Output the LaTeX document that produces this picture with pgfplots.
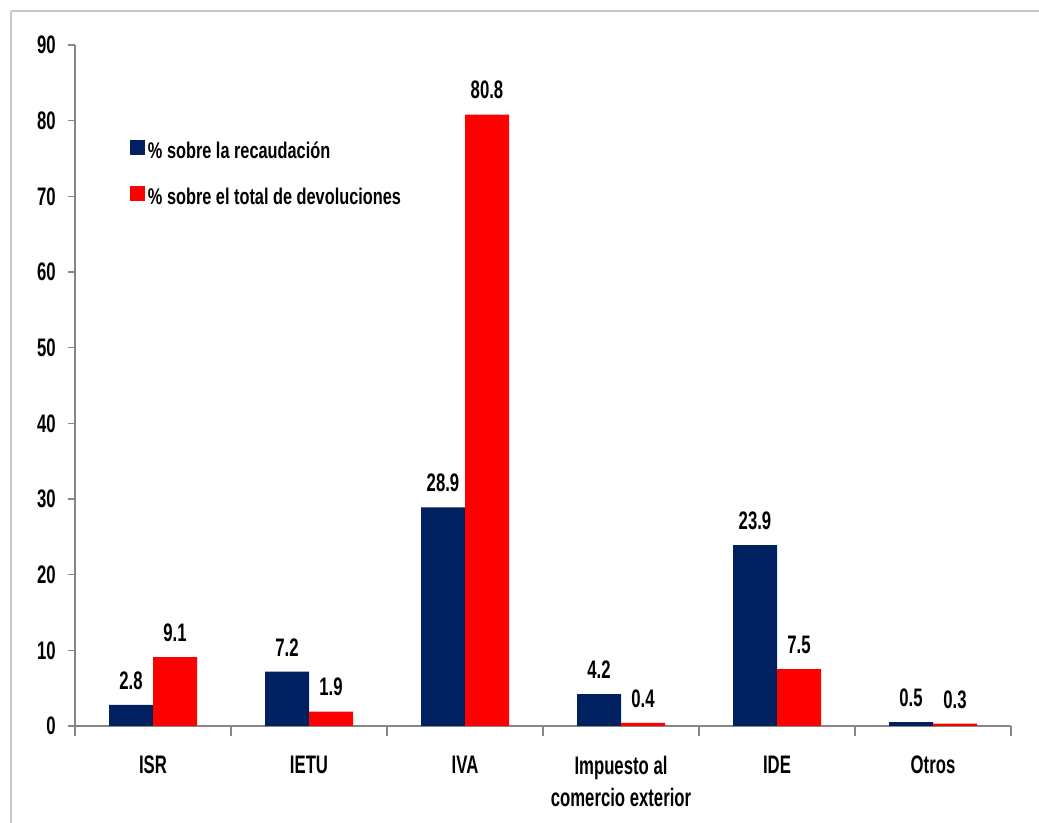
\documentclass[border=0pt]{standalone}
\usepackage{pgfplots}
\pgfplotsset{compat=1.18}
\usepackage{fontspec}
\setmainfont[FakeStretch=0.66]{Liberation Sans}
\newfontfamily\legfont[FakeStretch=0.72]{Liberation Sans}
\definecolor{navy}{RGB}{0,32,96}
\definecolor{axgray}{RGB}{134,134,134}
\definecolor{framegray}{RGB}{200,200,200}
\newcommand{\lblfont}{\fontsize{19}{24}\selectfont\bfseries}
\newcommand{\lgfont}{\legfont\fontsize{17}{20}\selectfont\bfseries}
\begin{document}
\begin{tikzpicture}[x=0.75pt,y=0.75pt]
\useasboundingbox (0,0) rectangle (1039,823);
\draw[framegray, line width=1.5pt] (11,812) -- (1100,812);
\draw[framegray, line width=1.5pt] (11,812) -- (11,-50);
\begin{axis}[
  at={(56.25pt,72.75pt)}, anchor=south west,
  scale only axis, width=702pt, height=510.75pt,
  xmin=-0.5, xmax=5.5, ymin=0, ymax=90,
  axis x line*=bottom, axis y line*=left,
  axis line style={axgray, line width=0.8pt, -},
  /pgf/number format/assume math mode=true,
  ytick={0,10,...,90},
  xtick={0,...,5},
  xticklabels={ISR, IETU, IVA, {Impuesto al\\comercio exterior}, IDE, Otros},
  minor xtick={-0.5,0.5,...,5.5},
  major x tick style={draw=none},
  minor x tick style={axgray, line width=0.8pt},
  y tick style={axgray, line width=0.8pt},
  tick align=outside,
  minor tick length=7.5pt,
  major tick length=5pt,
  xticklabel style={font=\lblfont, align=center, yshift=-14pt},
  yticklabel style={font=\lblfont, xshift=-6pt},
  ybar=0pt, bar width=33pt,
  nodes near coords={\pgfmathprintnumber[fixed,precision=1,fixed zerofill]{\pgfplotspointmeta}},
  every node near coord/.append style={font=\lblfont, black, yshift=8pt},
  legend style={at={(rel axis cs:0.0588,0.8605)}, anchor=north west, draw=none, fill=none,
    inner sep=0pt, font=\lgfont, row sep=17.5pt,
    nodes={inner sep=0pt, text height=11pt, text depth=3pt},
    /tikz/every odd column/.append style={column sep=2pt}},
  legend cell align=left,
]
\addplot[fill=navy, draw=none,
  legend image code/.code={\fill[navy] (0pt,-1.5pt) rectangle (11.25pt,9.75pt);}]
  coordinates {(0,2.8) (1,7.2) (2,28.9) (3,4.2) (4,23.9) (5,0.5)};
\addplot[fill=red, draw=none,
  legend image code/.code={\fill[red] (0pt,-1.5pt) rectangle (11.25pt,9.75pt);}]
  coordinates {(0,9.1) (1,1.9) (2,80.8) (3,0.4) (4,7.5) (5,0.3)};
\legend{\% sobre la recaudación, \% sobre el total de devoluciones}
\end{axis}
\end{tikzpicture}
\end{document}
